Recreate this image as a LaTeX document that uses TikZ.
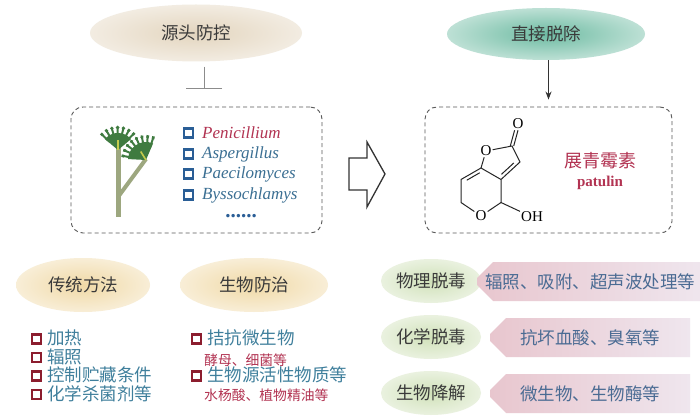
\documentclass[tikz,border=0pt]{standalone}
\usepackage{fontspec}
\setmainfont{Liberation Serif}
\newfontfamily\cjk{Noto Sans CJK SC}
\usetikzlibrary{arrows.meta,shapes.geometric,shapes.misc,calc}

\definecolor{sandhead}{HTML}{E3D5BE}
\definecolor{tealhead}{HTML}{6DBBA2}
\definecolor{yellowhead}{HTML}{F0D9A6}
\definecolor{greenhead}{HTML}{D0E1B9}
\definecolor{tagleft}{HTML}{E8C6CE}
\definecolor{tagright}{HTML}{EFE6EE}
\definecolor{inkblue}{HTML}{3B6F93}
\definecolor{boxblue}{HTML}{2A5E96}
\definecolor{inkred}{HTML}{B23352}
\definecolor{boxred}{HTML}{8C1D2E}
\definecolor{tealtext}{HTML}{3F7F9C}
\definecolor{tagtext}{HTML}{4A6B93}
\definecolor{moldgreen}{HTML}{3F7B40}
\definecolor{stalkgreen}{HTML}{9DA77F}
\definecolor{darktext}{HTML}{3A3A3A}

\begin{document}
\begin{tikzpicture}
  [x=1pt, y=-1pt,
   bubble/.style={ellipse, inner sep=0pt, inner color=#1, outer color=#1!45!white, text=darktext, font=\cjk\fontsize{17.5}{20}\selectfont},
   frame/.style={draw=black!65, dash pattern=on 4pt off 3pt, line width=0.9pt, rounded corners=12pt, inner sep=0pt},
   tick/.style={draw=boxblue, line width=2.3pt, minimum size=9pt, inner sep=0pt},
   redtick/.style={draw=boxred, line width=2.7pt, minimum size=9pt, inner sep=0pt},
   genus/.style={anchor=west, inner sep=0pt, text=inkblue, font=\itshape\fontsize{17}{20}\selectfont},
   method/.style={anchor=west, inner sep=0pt, text=tealtext, font=\cjk\fontsize{17.5}{20}\selectfont},
   example/.style={anchor=west, inner sep=0pt, text=inkred, font=\cjk\fontsize{13.8}{16}\selectfont},
   tag/.style={chamfered rectangle, chamfered rectangle corners={north west,south west}, chamfered rectangle xsep=8pt, chamfered rectangle ysep=8pt, left color=tagleft, right color=tagright, minimum width=200pt, minimum height=39pt, inner sep=0pt, text=tagtext, font=\cjk\fontsize{17.5}{20}\selectfont},
   atom/.style={inner sep=1pt, font=\fontsize{15}{16}\selectfont},
   bond/.style={line width=1pt, black!85},
   inhibit/.style={draw=black!45, line width=1pt, -{Bar[width=36pt]}},
   push/.style={black!80, line width=1pt, -{Stealth[length=8pt,width=6pt]}},
   hollow/.style={draw=black!80, line width=1.3pt, line join=miter}]

  \fill[white] (0,0) rectangle (700,419);
  \useasboundingbox (0,0) rectangle (700,419);

  % two routes at the top
  \node[bubble=sandhead, minimum width=212pt, minimum height=57pt] (src) at (196,33) {源头防控};
  \node[bubble=tealhead, minimum width=198pt, minimum height=52pt] (rem) at (546,34) {直接脱除};

  % dashed boxes
  \node[frame, minimum width=251pt, minimum height=126pt] (moldbox) at (196.5,170) {};
  \node[frame, minimum width=247pt, minimum height=126pt] (toxbox) at (548.5,170) {};

  \draw[inhibit, shorten <=5pt, shorten >=18pt] ([xshift=8pt]src.south) -- ([xshift=8pt]src.south |- moldbox.north);
  \draw[push, shorten >=7pt] (rem.south -| toxbox.north) -- (toxbox.north);

  % the mould
  \draw[stalkgreen, line width=5pt] (118,217) -- (118,146);
  \draw[stalkgreen, line width=4pt] (118,197) -- (146,159);
  \begin{scope}[shift={(118,150)}, yscale=-1]
    \fill[moldgreen] (0,0) -- (40:17) arc[start angle=40, end angle=140, radius=17] -- cycle;
    \foreach \a in {46,61,...,136}
      {\draw[moldgreen, line width=2pt, line cap=round] (\a:12) -- (\a:22);
       \fill[moldgreen] (\a:22.5) circle (1.9pt);}
    \draw[stalkgreen!60!yellow, line width=1.6pt] (0,0) -- (0,10);
  \end{scope}
  \begin{scope}[shift={(146,160)}, yscale=-1, rotate=-32]
    \fill[moldgreen] (0,0) -- (35:18) arc[start angle=35, end angle=145, radius=18] -- cycle;
    \foreach \a in {40,54,...,145}
      {\draw[moldgreen, line width=2pt, line cap=round] (\a:12) -- (\a:23);
       \fill[moldgreen] (\a:23.5) circle (1.9pt);}
    \draw[stalkgreen!60!yellow, line width=1.6pt] (0,0) -- (0,10);
  \end{scope}

  % producing genera
  \node[tick] (t1) at (188.5,133) {};
  \node[tick] (t2) at (188.5,154) {};
  \node[tick] (t3) at (188.5,174) {};
  \node[tick] (t4) at (188.5,195) {};
  \node[genus, text=inkred] (g1) at (202,133) {Penicillium};
  \node[genus] (g2) at (202,154) {Aspergillus};
  \node[genus] (g3) at (202,174) {Paecilomyces};
  \node[genus] (g4) at (202,195) {Byssochlamys};
  \node[anchor=base, inner sep=0pt, text=boxblue, font=\bfseries\fontsize{21}{21}\selectfont] (more) at (241,218) {......};

  % hollow arrow between the boxes
  \draw[hollow] (349,158) -- (367,158) -- (367,142) -- (385,174) -- (367,207) -- (367,190) -- (349,190) -- cycle;

  % patulin
  \coordinate (c7a) at (481,168);
  \coordinate (c7) at (461,179.5);
  \coordinate (c6) at (461,202.5);
  \node[atom] (o5) at (481,216) {O};
  \coordinate (c4) at (501,202.5);
  \coordinate (c3a) at (501,179.5);
  \node[atom] (o1) at (486,151) {O};
  \coordinate (c2) at (512,146);
  \coordinate (c3) at (520,162);
  \node[atom] (oc) at (518,124) {O};
  \node[atom] (oh) at (532,217) {OH};
  \draw[bond] (c7a) -- (c7) -- (c6) -- (o5) -- (c4) -- (c3a) -- (c7a) -- (o1) -- (c2) -- (c3) -- (c3a);
  \draw[bond] (c4) -- (oh);
  \draw[bond] ($(c7)!.2!(c7a)!3.5pt!-90:(c7a)$) -- ($(c7)!.85!(c7a)!3.5pt!-90:(c7a)$);
  \draw[bond] ($(c3a)!.15!(c3)!3.5pt!90:(c3)$) -- ($(c3a)!.8!(c3)!3.5pt!90:(c3)$);
  \draw[bond, transform canvas={xshift=1.7pt}] (c2) -- (oc);
  \draw[bond, transform canvas={xshift=-1.7pt}] (c2) -- (oc);
  \node[text=inkred, font=\cjk\fontsize{18}{20}\selectfont] (zh) at (600,161) {展青霉素};
  \node[text=inkred, font=\bfseries\fontsize{15}{16}\selectfont] (en) at (600,183) {patulin};

  % source control methods
  \node[bubble=yellowhead, minimum width=134pt, minimum height=54pt] (trad) at (83,285) {传统方法};
  \node[bubble=yellowhead, minimum width=148pt, minimum height=54pt] (bio) at (254,285) {生物防治};

  \node[redtick] (r1) at (36.5,339) {};
  \node[redtick] (r2) at (36.5,357.5) {};
  \node[redtick] (r3) at (36.5,376) {};
  \node[redtick] (r4) at (36.5,394.5) {};
  \node[method] (m1) at (47,338) {加热};
  \node[method] (m2) at (47,356.5) {辐照};
  \node[method] (m3) at (47,375) {控制贮藏条件};
  \node[method] (m4) at (47,393.5) {化学杀菌剂等};

  \node[redtick] (r5) at (196.5,339) {};
  \node[redtick] (r6) at (196.5,376) {};
  \node[method] (b1) at (207,338) {拮抗微生物};
  \node[example] (e1) at (204,360) {酵母、细菌等};
  \node[method] (b2) at (207,375) {生物源活性物质等};
  \node[example] (e2) at (204,395) {水杨酸、植物精油等};

  % removal methods
  \node[bubble=greenhead, minimum width=100pt, minimum height=44pt] (phys) at (431,281) {物理脱毒};
  \node[bubble=greenhead, minimum width=100pt, minimum height=44pt] (chem) at (431,337) {化学脱毒};
  \node[bubble=greenhead, minimum width=100pt, minimum height=44pt] (degr) at (431,393) {生物降解};
  \node[tag] (p1) at (590,281.5) {辐照、吸附、超声波处理等};
  \node[tag] (p2) at (590,337.5) {抗坏血酸、臭氧等};
  \node[tag] (p3) at (590,393.5) {微生物、生物酶等};

\end{tikzpicture}
\end{document}
